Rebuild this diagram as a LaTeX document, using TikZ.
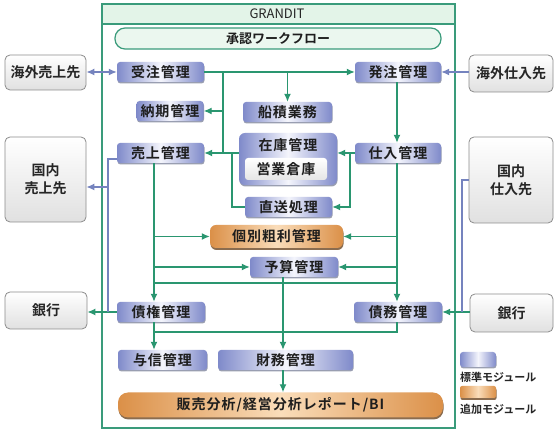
\documentclass[tikz,border=0pt]{standalone}
\usepackage{fontspec}
\setmainfont{Noto Sans CJK JP}[BoldFont={Noto Sans CJK JP Bold}]
\newfontfamily\jpls{Noto Sans CJK JP Bold}[LetterSpace=7]
\newfontfamily\jpb{Noto Sans CJK JP Bold}
\usetikzlibrary{arrows.meta,shadows}
\definecolor{gline}{HTML}{2A9670}
\definecolor{gframe}{HTML}{3A9B7B}
\definecolor{ghead}{HTML}{E3F4E8}
\definecolor{bline}{HTML}{7583BE}
\definecolor{bdark}{HTML}{7F8ACA}
\definecolor{blight}{HTML}{F4F5FC}
\definecolor{odark}{HTML}{DB9048}
\definecolor{olight}{HTML}{FADDBA}
\definecolor{gbord}{HTML}{8C8C8C}
\definecolor{txt}{HTML}{1E1E1E}
\tikzset{
  modtext/.style={font=\jpls\fontsize{14}{16}\selectfont, text=txt, inner sep=0pt},
  mod/.style={modtext, rounded corners=3pt, left color=bdark, right color=bdark, middle color=blight,
    drop shadow={shadow xshift=0.5pt, shadow yshift=-1.5pt, fill=bline!60!black, opacity=0.55}},
  addmod/.style={modtext, rounded corners=6pt, left color=odark, right color=odark, middle color=olight,
    drop shadow={shadow xshift=0.5pt, shadow yshift=-2pt, fill=odark!50!black, opacity=0.8}},
  ext/.style={font=\jpb\fontsize{14}{18}\selectfont, text=black!85, align=center, inner sep=0pt,
    rounded corners=5pt, draw=gbord, line width=0.8pt, top color=white, bottom color=black!12},
  gl/.style={draw=gline, line width=1.3pt},
  garr/.style={gl, -{Latex[length=8pt,width=7pt]}},
  bl/.style={draw=bline, line width=1.3pt},
  barr/.style={bl, -{Latex[length=8pt,width=7pt]}},
  legtext/.style={font=\jpb\fontsize{11}{13}\selectfont, text=black!85, inner sep=0pt, anchor=west},
}
\begin{document}
\begin{tikzpicture}[x=1pt, y=-1pt]
\useasboundingbox[fill=white] (0,0) rectangle (555,435);
% frame
\draw[draw=gframe, line width=1.5pt, fill=ghead] (102,4) rectangle (455,24);
\draw[draw=gframe, line width=1.5pt] (102,24) rectangle (455,428);
\node[font=\fontsize{13}{15}\selectfont, text=black!85] (title) at (277,14) {GRANDIT};
\node[draw=gframe, line width=1.2pt, fill=ghead!70, rounded corners=10pt, minimum width=326pt, minimum height=21pt,
  inner sep=0pt, font=\jpb\fontsize{13}{15}\selectfont, text=txt] (wf) at (278,38.5) {承認ワークフロー};
% modules
\node[mod, minimum width=87pt, minimum height=20pt] (jutyu) at (160.5,72) {受注管理};
\node[mod, minimum width=86pt, minimum height=20pt] (hattyu) at (398,72) {発注管理};
\node[mod, minimum width=67pt, minimum height=20pt] (nouki) at (170,111) {納期管理};
\node[mod, minimum width=89pt, minimum height=20pt] (funa) at (287.5,112) {船積業務};
\node[mod, rounded corners=6pt, minimum width=98pt, minimum height=52pt] (zaiko) at (288,159) {};
\node[modtext] (zaikot) at (288,145.5) {在庫管理};
\node[modtext, rounded corners=3pt, top color=white, bottom color=black!10, minimum width=82pt, minimum height=22pt] (eigyo) at (286,169) {営業倉庫};
\node[mod, minimum width=87pt, minimum height=20pt] (uriage) at (160.5,153) {売上管理};
\node[mod, minimum width=86pt, minimum height=20pt] (shiire) at (398,153) {仕入管理};
\node[mod, minimum width=87pt, minimum height=20pt] (tyokuso) at (288.5,207) {直送処理};
\node[addmod, minimum width=133pt, minimum height=23pt] (kobetsu) at (276.5,236.5) {個別粗利管理};
\node[mod, minimum width=88pt, minimum height=20pt] (yosan) at (294,267) {予算管理};
\node[mod, minimum width=88pt, minimum height=20pt] (saiken) at (161,312) {債権管理};
\node[mod, minimum width=88pt, minimum height=20pt] (saimu) at (398,312) {債務管理};
\node[mod, minimum width=89pt, minimum height=20pt] (yoshin) at (162.5,360) {与信管理};
\node[mod, minimum width=135pt, minimum height=20pt] (zaimu) at (285.5,360) {財務管理};
\node[addmod, rounded corners=10pt, minimum width=325pt, minimum height=25pt] (hanbai) at (280.5,405) {販売分析/経営分析レポート/BI};
% external parties
\node[ext, minimum width=81pt, minimum height=35pt] (kaigaiU) at (45.5,72.5) {海外売上先};
\node[ext, minimum width=81pt, minimum height=85pt] (kokunaiU) at (45.5,179.5) {国内\\売上先};
\node[ext, minimum width=82pt, minimum height=37pt] (ginkoL) at (46,310.5) {銀行};
\node[ext, minimum width=84pt, minimum height=37pt] (kaigaiS) at (511,73.5) {海外仕入先};
\node[ext, minimum width=84pt, minimum height=86pt] (kokunaiS) at (511,180) {国内\\仕入先};
\node[ext, minimum width=83pt, minimum height=38pt] (ginkoR) at (511.5,313) {銀行};
% legend
\node[mod, minimum width=36pt, minimum height=15pt] (legB) at (478,359.5) {};
\node[legtext] (legBt) at (460,377) {標準モジュール};
\node[addmod, rounded corners=2pt, minimum width=36pt, minimum height=12pt] (legO) at (478,392) {};
\node[legtext] (legOt) at (460,409) {追加モジュール};
% junction coordinates
\coordinate (xA) at (223,0);
\coordinate (xB) at (232,0);
\coordinate (xC) at (350,0);
\coordinate (xL) at (154,0);
\coordinate (xR) at (397,0);
\coordinate (xM) at (283,0);
\coordinate (yG) at (0,283);
\coordinate (yH) at (0,332);
\coordinate (xBL) at (108,0);
\coordinate (xBR) at (462,0);
\coordinate (yU) at (0,159);
\coordinate (yK) at (0,187);
% green connectors
\draw[garr] (jutyu.east) -- (hattyu.west);
\draw[gl] (jutyu.east -| xA) -- (uriage.east -| xA);
\draw[garr] (nouki.east -| xA) -- (nouki.east);
\draw[garr] (jutyu.east -| funa.north) -- (funa.north);
\draw[garr] (zaiko.west |- uriage.east) -- (uriage.east);
\draw[gl] (tyokuso.west) -| (uriage.east -| xB);
\draw[garr] (hattyu.south -| xR) -- (shiire.north -| xR);
\draw[garr] (shiire.west) -- (zaiko.east |- shiire.west);
\draw[garr] (shiire.west -| xC) |- (tyokuso.east);
\draw[garr] (uriage.south -| xL) -- (saiken.north -| xL);
\draw[garr] (kobetsu.west -| xL) -- (kobetsu.west);
\draw[garr] (yosan.west -| xL) -- (yosan.west);
\draw[garr] (shiire.south -| xR) -- (saimu.north -| xR);
\draw[garr] (kobetsu.east -| xR) -- (kobetsu.east);
\draw[garr] (yosan.east -| xR) -- (yosan.east);
\draw[gl] (yG -| xL) -- (yG -| xR);
\draw[garr] (yosan.south -| xM) -- (zaimu.north -| xM);
\draw[garr] (saiken.south -| xL) -- (yoshin.north -| xL);
\draw[gl] (yH -| xL) -| (saimu.south -| xR);
\draw[garr] (zaimu.south -| xM) -- (hanbai.north -| xM);
\draw[garr] (saiken.west) -- (saiken.west -| ginkoL.east);
\draw[garr] (saimu.east -| ginkoR.west) -- (saimu.east);
% blue connectors
\draw[bl, {Latex[length=8pt,width=7pt]}-{Latex[length=8pt,width=7pt]}] (jutyu.west -| kaigaiU.east) -- (jutyu.west);
\draw[barr] (hattyu.east -| kaigaiS.west) -- (hattyu.east);
\draw[bl] (yU -| uriage.west) -- (yU -| xBL) -- (saiken.west -| xBL);
\draw[barr] (yK -| xBL) -- (yK -| kokunaiU.east);
\draw[bl] (kokunaiS.west) -| (saimu.east -| xBR);
\end{tikzpicture}
\end{document}
